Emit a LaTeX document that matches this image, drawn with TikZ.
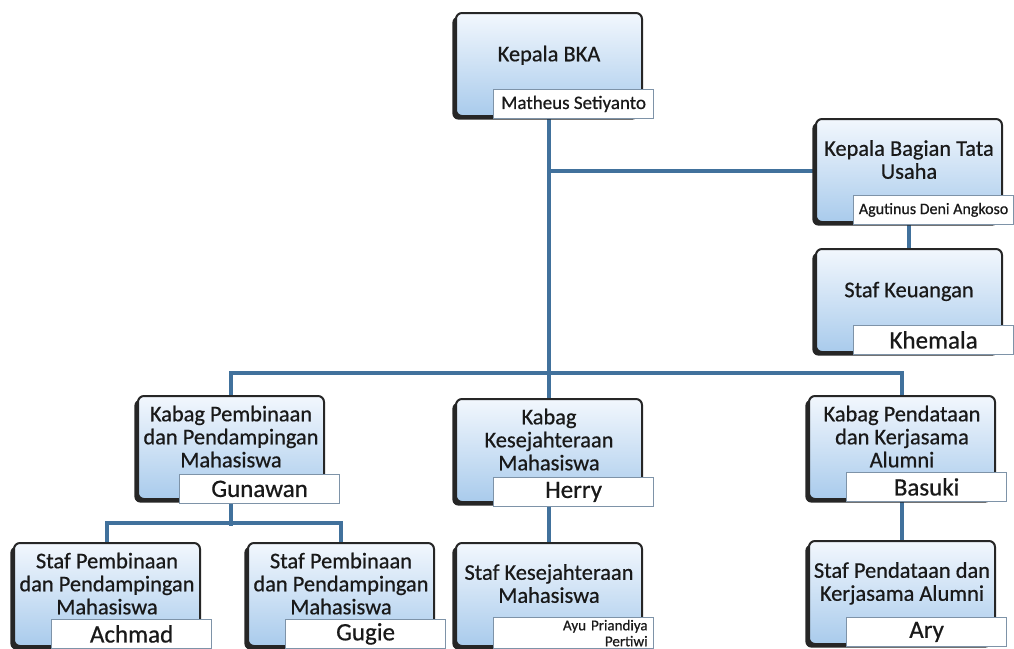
\documentclass[tikz,border=0pt]{standalone}
\usepackage{fontspec}
\setmainfont{Carlito}[UprightFeatures={FakeBold=0.6}]
\usepackage{tikz}
\usetikzlibrary{positioning,shadows,backgrounds}
\definecolor{linkblue}{HTML}{41719C}
\definecolor{boxtop}{HTML}{F2F7FD}
\definecolor{boxbottom}{HTML}{A9CBEC}
\definecolor{boxedge}{HTML}{262626}
\definecolor{nameedge}{HTML}{7E93A8}

\begin{document}
\begin{tikzpicture}[x=0.5pt, y=-0.5pt, text=black!90, unit/.style={rectangle, draw=boxedge, line width=1pt, rounded corners=3pt, top color=boxtop, bottom color=boxbottom, minimum width=93pt, minimum height=51.5pt, inner xsep=1pt, anchor=north west, align=center, text depth=11pt, font=\fontsize{11.2}{11.5}\selectfont, drop shadow={shadow xshift=-1.8pt, shadow yshift=-1.8pt, opacity=1, fill=boxedge}}, tag/.style={rectangle, draw=nameedge, line width=0.6pt, fill=white, minimum width=80pt, minimum height=14.5pt, anchor=south west, inner sep=1pt, font=\fontsize{12.5}{13}\selectfont}, link/.style={draw=linkblue, line width=2pt}]
  \useasboundingbox (0,0) rectangle (1014,649);
  \node[unit] (bka) at (455,12) {Kepala BKA};
  \node[tag, font=\fontsize{9.5}{10}\selectfont] (bkaname) at ([xshift=19pt,yshift=-1pt]bka.south west) {Matheus Setiyanto};
  \node[unit] (tu) at (815,118) {Kepala Bagian Tata\\Usaha};
  \node[tag, font=\fontsize{8}{8}\selectfont] (tuname) at ([xshift=19pt,yshift=-1pt]tu.south west) {Agutinus Deni Angkoso};
  \node[unit] (keu) at (815,248) {Staf Keuangan};
  \node[tag] (keuname) at ([xshift=19pt,yshift=-1pt]keu.south west) {Khemala};

  \node[unit] (pembinaan) at (137,395) {Kabag Pembinaan\\dan Pendampingan\\Mahasiswa};
  \node[tag] (pembinaanname) at ([xshift=21pt,yshift=-2pt]pembinaan.south west) {Gunawan};
  \node[unit] (kesra) at (455,398) {Kabag\\Kesejahteraan\\Mahasiswa};
  \node[tag] (kesraname) at ([xshift=19pt,yshift=-2pt]kesra.south west) {Herry};
  \node[unit] (pendataan) at (808,395) {Kabag Pendataan\\dan Kerjasama\\Alumni};
  \node[tag] (pendataanname) at ([xshift=19pt,yshift=-1pt]pendataan.south west) {Basuki};

  \node[unit] (stafa) at (13,542) {Staf Pembinaan\\dan Pendampingan\\Mahasiswa};
  \node[tag] (stafaname) at ([xshift=19pt,yshift=-1pt]stafa.south west) {Achmad};
  \node[unit] (stafb) at (247,542) {Staf Pembinaan\\dan Pendampingan\\Mahasiswa};
  \node[tag] (stafbname) at ([xshift=19pt,yshift=-1pt]stafb.south west) {Gugie};
  \node[unit] (stafc) at (455,542) {Staf Kesejahteraan\\Mahasiswa};
  \node[tag, align=right, text width=74pt, font=\fontsize{7.5}{8}\selectfont] (stafcname) at ([xshift=19pt,yshift=-1pt]stafc.south west) {Ayu Priandiya\\Pertiwi};
  \node[unit] (stafd) at (808,540) {Staf Pendataan dan\\Kerjasama Alumni};
  \node[tag] (stafdname) at ([xshift=19pt,yshift=-1pt]stafd.south west) {Ary};

  \begin{scope}[on background layer]
    \draw[link] (bka.south) -- (bka.south |- kesra.north);
    \draw[link] (bka.south |- tu.west) -- (tu.west);
    \draw[link] (tu.south) -- (tu.south |- keu.north);
    \draw[link] (pembinaan.north) -- ++(0,-22) -| (pendataan.north);
    \draw[link] (pembinaan.south) -- ++(0,26);
    \draw[link] (stafa.north) -- ++(0,-19) -| (stafb.north);
    \draw[link] (kesra.south) -- (kesra.south |- stafc.north);
    \draw[link] (pendataan.south) -- (pendataan.south |- stafd.north);
  \end{scope}
\end{tikzpicture}
\end{document}
